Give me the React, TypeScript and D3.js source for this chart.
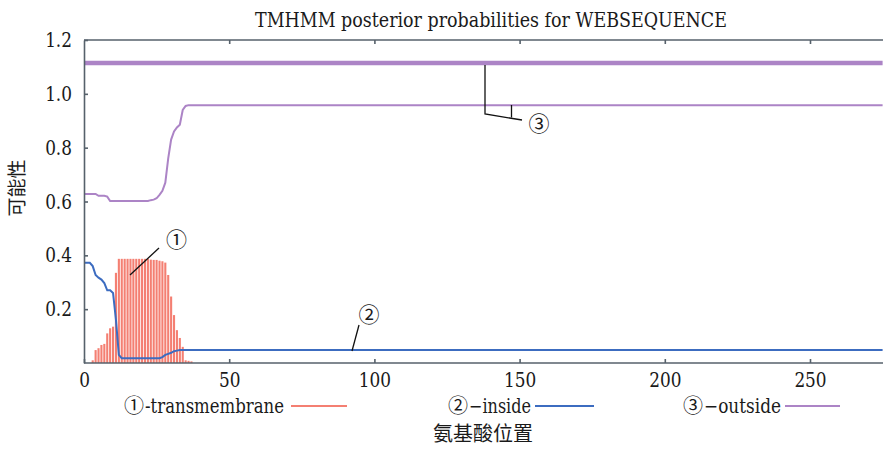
import React, { useEffect, useRef } from "react";
import * as d3 from "d3";

// residue positions used for the early part of the curves (0..40) + last residue
const positions = [
  0, 1, 2, 3, 4, 5, 6, 7, 8, 9, 10, 11, 12, 13, 14, 15, 16, 17, 18, 19, 20,
  21, 22, 23, 24, 25, 26, 27, 28, 29, 30, 31, 32, 33, 34, 35, 36, 37, 38, 39,
  40, 275,
];

const outsideVals = [
  0.628, 0.628, 0.628, 0.628, 0.628, 0.621, 0.621, 0.621, 0.618, 0.602, 0.602,
  0.602, 0.602, 0.602, 0.602, 0.602, 0.602, 0.602, 0.602, 0.602, 0.602, 0.602,
  0.602, 0.605, 0.607, 0.612, 0.625, 0.64, 0.67, 0.76, 0.83, 0.86, 0.875,
  0.885, 0.94, 0.955, 0.958, 0.958, 0.958, 0.958, 0.958, 0.958,
];

const insideVals = [
  0.372, 0.372, 0.372, 0.36, 0.327, 0.317, 0.31, 0.297, 0.27, 0.27, 0.26,
  0.16, 0.03, 0.018, 0.018, 0.018, 0.018, 0.018, 0.018, 0.018, 0.018, 0.018,
  0.018, 0.018, 0.018, 0.018, 0.018, 0.022, 0.03, 0.034, 0.038, 0.044, 0.046,
  0.048, 0.048, 0.048, 0.048, 0.048, 0.048, 0.048, 0.048, 0.048,
];

// transmembrane bars
const tmPositions = [
  3, 4, 5, 6, 7, 8, 9, 10, 11, 12, 13, 14, 15, 16, 17, 18, 19, 20, 21, 22, 23,
  24, 25, 26, 27, 28, 29, 30, 31, 32, 33, 34, 35, 36, 37,
];
const tmVals = [
  0.01, 0.048, 0.055, 0.067, 0.071, 0.11, 0.129, 0.135, 0.335, 0.387, 0.387,
  0.387, 0.387, 0.387, 0.387, 0.387, 0.387, 0.387, 0.387, 0.387, 0.384, 0.383,
  0.383, 0.38, 0.378, 0.373, 0.327, 0.247, 0.178, 0.122, 0.093, 0.06, 0.01,
  0.008, 0.006,
];

// predicted topology (outside) drawn at top
const topologyStart = 0;
const topologyEnd = 275;
const topologyLevel = 1.115;

const xTicks = [0, 50, 100, 150, 200, 250];
const yTicks = [0.2, 0.4, 0.6, 0.8, 1.0, 1.2];

const legendMarks = ["①", "②", "③"];
const legendLabels = ["-transmembrane", "−inside", "−outside"];

const W = 883;
const H = 449;
const SERIF = '"DejaVu Serif", serif';
const CJK = '"Noto Sans CJK SC", sans-serif';

const RED = "#f47f72";
const BLUE = "#3c6cc0";
const PURPLE = "#ac84c6";
const AXIS = "#56616b";

// width a Times-like face would give a numeric label
const timesWidth = (s: string, size: number) =>
  s.split("").reduce((w, c) => w + (c === "." ? 0.25 : 0.5) * size, 0);

export default function App() {
  const svgRef = useRef<SVGSVGElement>(null);

  useEffect(() => {
    const svg = d3.select(svgRef.current);
    svg.selectAll("*").remove();

    const left = 84;
    const right = 883;
    const top = 40;
    const bottom = 363;

    const x = d3.scaleLinear().domain([0, 250]).range([left, 810]);
    const y = d3.scaleLinear().domain([0, 1.2]).range([bottom, top]);

    svg
      .append("defs")
      .append("clipPath")
      .attr("id", "plot")
      .append("rect")
      .attr("x", left)
      .attr("y", top)
      .attr("width", right - left)
      .attr("height", bottom - top);

    const plot = svg.append("g").attr("clip-path", "url(#plot)");

    // bars
    plot
      .selectAll("rect.tm")
      .data(tmPositions)
      .enter()
      .append("rect")
      .attr("class", "tm")
      .attr("x", (d) => x(d) - 1.05)
      .attr("width", 2.1)
      .attr("y", (d, i) => y(tmVals[i]))
      .attr("height", (d, i) => y(0) - y(tmVals[i]))
      .attr("fill", RED);

    const line = d3
      .line<number>()
      .x((d) => x(d))
      .curve(d3.curveLinear);

    plot
      .append("path")
      .attr("d", line.y((d, i) => y(insideVals[i]))(positions))
      .attr("fill", "none")
      .attr("stroke", BLUE)
      .attr("stroke-width", 2);

    plot
      .append("path")
      .attr("d", line.y((d, i) => y(outsideVals[i]))(positions))
      .attr("fill", "none")
      .attr("stroke", PURPLE)
      .attr("stroke-width", 2);

    plot
      .append("line")
      .attr("x1", x(topologyStart))
      .attr("x2", x(topologyEnd))
      .attr("y1", y(topologyLevel))
      .attr("y2", y(topologyLevel))
      .attr("stroke", PURPLE)
      .attr("stroke-width", 4.5);

    // axes
    const styleAxis = (g) => {
      g.select(".domain").attr("stroke", AXIS).attr("stroke-width", 1.6);
      g.selectAll(".tick line").attr("stroke", AXIS).attr("stroke-width", 1.6);
      g.selectAll("text")
        .attr("fill", "#1a1a1a")
        .style("font-family", SERIF)
        .style("font-size", "20.5px")
        .attr("lengthAdjust", "spacingAndGlyphs")
        .attr("textLength", function () {
          return timesWidth(this.textContent, 21.5);
        });
    };

    svg
      .append("g")
      .attr("transform", `translate(0,${bottom})`)
      .call(
        d3
          .axisBottom(x)
          .tickValues(xTicks)
          .tickSizeInner(-4)
          .tickSizeOuter(0)
          .tickPadding(9)
          .tickFormat(d3.format("d"))
      )
      .call(styleAxis)
      .select(".domain")
      .attr("d", `M${left},0H${right}`);

    svg
      .append("g")
      .attr("transform", `translate(0,${top})`)
      .call(
        d3
          .axisTop(x)
          .tickValues(xTicks.filter((t) => t > 0))
          .tickSizeInner(-4)
          .tickSizeOuter(0)
          .tickFormat(() => "")
      )
      .call(styleAxis)
      .select(".domain")
      .attr("d", `M${left},0H${right}`);

    svg
      .append("g")
      .attr("transform", `translate(${left},0)`)
      .call(
        d3
          .axisLeft(y)
          .tickValues(yTicks)
          .tickSizeInner(-4)
          .tickSizeOuter(0)
          .tickPadding(12)
          .tickFormat(d3.format(".1f"))
      )
      .call(styleAxis);

    // title
    svg
      .append("text")
      .attr("x", 491)
      .attr("y", 27)
      .attr("text-anchor", "middle")
      .style("font-family", SERIF)
      .style("font-size", "19.5px")
      .attr("textLength", 472)
      .attr("lengthAdjust", "spacingAndGlyphs")
      .attr("fill", "#1a1a1a")
      .text("TMHMM posterior probabilities for WEBSEQUENCE");

    // axis titles
    svg
      .append("text")
      .attr("transform", "translate(24,188) rotate(-90)")
      .attr("text-anchor", "middle")
      .style("font-family", CJK)
      .style("font-size", "19px")
      .attr("fill", "#1a1a1a")
      .text("可能性");

    svg
      .append("text")
      .attr("x", 483)
      .attr("y", 441)
      .attr("text-anchor", "middle")
      .style("font-family", CJK)
      .style("font-size", "20px")
      .attr("fill", "#1a1a1a")
      .text("氨基酸位置");

    // legend
    const legendPos = [
      { start: 124, end: 284, x1: 291, x2: 347, color: RED },
      { start: 448, end: 531, x1: 535, x2: 594, color: BLUE },
      { start: 683, end: 781, x1: 785, x2: 840, color: PURPLE },
    ];
    legendPos.forEach((l, i) => {
      svg
        .append("text")
        .attr("x", l.start + 10)
        .attr("y", 413)
        .attr("text-anchor", "middle")
        .style("font-family", CJK)
        .style("font-size", "20px")
        .attr("fill", "#1a1a1a")
        .text(legendMarks[i]);
      svg
        .append("text")
        .attr("x", l.start + 21)
        .attr("y", 413)
        .attr("textLength", l.end - l.start - 21)
        .attr("lengthAdjust", "spacingAndGlyphs")
        .style("font-family", SERIF)
        .style("font-size", "20px")
        .attr("fill", "#1a1a1a")
        .text(legendLabels[i]);
      svg
        .append("line")
        .attr("x1", l.x1)
        .attr("x2", l.x2)
        .attr("y1", 406)
        .attr("y2", 406)
        .attr("stroke", l.color)
        .attr("stroke-width", 2);
    });

    // annotations
    const ann = svg.append("g").attr("stroke", "#111").attr("stroke-width", 1.3).attr("fill", "none");
    ann.append("line").attr("x1", 159).attr("y1", 248).attr("x2", 130).attr("y2", 275);
    ann.append("line").attr("x1", 359).attr("y1", 325).attr("x2", 352).attr("y2", 351);
    ann.append("polyline").attr("points", "485,65 485,114 522,120");
    ann.append("line").attr("x1", 511.5).attr("y1", 105).attr("x2", 511.5).attr("y2", 117.5);

    const marks = [
      { t: "①", cx: 176.5, cy: 238 },
      { t: "②", cx: 369, cy: 313 },
      { t: "③", cx: 539, cy: 122 },
    ];
    marks.forEach((m) => {
      svg
        .append("text")
        .attr("x", m.cx)
        .attr("y", m.cy)
        .attr("text-anchor", "middle")
        .attr("dominant-baseline", "central")
        .style("font-family", CJK)
        .style("font-size", "21px")
        .attr("fill", "#1a1a1a")
        .text(m.t);
    });
  }, []);

  return (
    <svg
      ref={svgRef}
      width={W}
      height={H}
      style={{ position: "absolute", left: 0, top: 0, background: "#fff" }}
    />
  );
}
